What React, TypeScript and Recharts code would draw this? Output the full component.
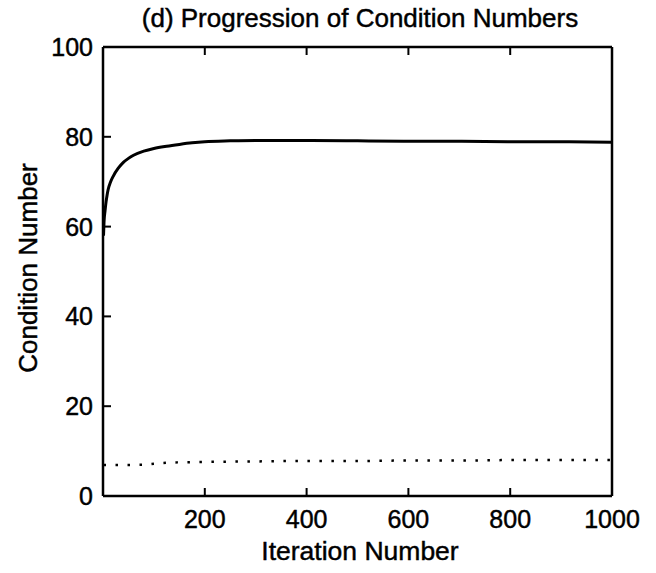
import React from 'react';
import { LineChart, Line, XAxis, YAxis } from 'recharts';

const iterations = [1, 2, 4, 6, 8, 10, 15, 20, 30, 40, 50, 60, 80, 100, 125, 150, 175, 200, 250, 300, 400, 500, 600, 700, 800, 900, 1000];
const conditionMain = [58, 61, 63.5, 65.5, 67, 68.2, 70.0, 71.2, 73.0, 74.3, 75.2, 75.9, 76.8, 77.4, 77.9, 78.3, 78.65, 78.9, 79.1, 79.2, 79.2, 79.1, 79.0, 79.0, 78.9, 78.9, 78.8];
const conditionPre = [6.9, 6.9, 6.9, 6.9, 6.9, 6.9, 6.9, 6.9, 6.9, 6.9, 6.9, 6.95, 7.0, 7.2, 7.4, 7.5, 7.55, 7.6, 7.65, 7.7, 7.8, 7.8, 7.9, 7.9, 8.0, 8.0, 8.0];
const xTicks = [200, 400, 600, 800, 1000];
const yTicks = [0, 20, 40, 60, 80, 100];

const title = '(d) Progression of Condition Numbers';
const xLabel = 'Iteration Number';
const yLabel = 'Condition Number';

const data = iterations.map((it, i) => ({ it, main: conditionMain[i], pre: conditionPre[i] }));

const FONT = '"Liberation Sans", Arial, Helvetica, sans-serif';
const W = 656;
const H = 573;
const TICK_LEN = 8;
const X_GAP = 14;
const Y_GAP = 10;
const TEXT_STROKE = 0.45;

function BottomTick(props: any) {
  const { x, y, payload } = props;
  return (
    <g>
      <path d={`M${x},${y - X_GAP}V${y - X_GAP - TICK_LEN}`} stroke="#000" strokeWidth={2} fill="none" />
      <text x={x} y={y} dy="0.72em" textAnchor="middle" fontSize={25} fontFamily={FONT} fill="#000" stroke="#000" strokeWidth={TEXT_STROKE}>
        {payload.value}
      </text>
    </g>
  );
}

function LeftTick(props: any) {
  const { x, y, payload } = props;
  return (
    <g>
      <path d={`M${x + Y_GAP},${y}H${x + Y_GAP + TICK_LEN}`} stroke="#000" strokeWidth={2} fill="none" />
      <text x={x} y={y} dy="0.36em" textAnchor="end" fontSize={25} fontFamily={FONT} fill="#000" stroke="#000" strokeWidth={TEXT_STROKE}>
        {payload.value}
      </text>
    </g>
  );
}

function TopTick(props: any) {
  const { x, y } = props;
  return <path d={`M${x},${y}V${y + TICK_LEN}`} stroke="#000" strokeWidth={2} fill="none" />;
}

function RightTick(props: any) {
  const { x, y } = props;
  return <path d={`M${x},${y}H${x - TICK_LEN}`} stroke="#000" strokeWidth={2} fill="none" />;
}

export default function App() {
  const axisLine = { stroke: '#000', strokeWidth: 2.5 };
  return (
    <div style={{ position: 'absolute', left: 0, top: 0, width: W, height: H, background: '#fff' }}>
      <LineChart width={W} height={H} data={data} margin={{ top: 46, right: 43, bottom: 17, left: 43 }}>
        <XAxis
          xAxisId="b"
          dataKey="it"
          type="number"
          domain={[0, 1000]}
          ticks={xTicks}
          height={60}
          tickSize={0}
          tickMargin={X_GAP}
          tick={<BottomTick />}
          axisLine={axisLine}
          tickLine={false}
        />
        <XAxis
          xAxisId="t"
          orientation="top"
          dataKey="it"
          type="number"
          domain={[0, 1000]}
          ticks={xTicks}
          height={1}
          tickSize={0}
          tickMargin={0}
          tick={<TopTick />}
          axisLine={axisLine}
          tickLine={false}
        />
        <YAxis
          yAxisId="l"
          type="number"
          domain={[0, 100]}
          ticks={yTicks}
          width={60}
          tickSize={0}
          tickMargin={Y_GAP}
          tick={<LeftTick />}
          axisLine={axisLine}
          tickLine={false}
        />
        <YAxis
          yAxisId="r"
          orientation="right"
          type="number"
          domain={[0, 100]}
          ticks={yTicks}
          width={1}
          tickSize={0}
          tickMargin={0}
          tick={<RightTick />}
          axisLine={axisLine}
          tickLine={false}
        />
        <Line
          xAxisId="b"
          yAxisId="l"
          type="monotone"
          dataKey="main"
          stroke="#000"
          strokeWidth={3}
          dot={false}
          isAnimationActive={false}
        />
        <Line
          xAxisId="b"
          yAxisId="l"
          type="monotone"
          dataKey="pre"
          stroke="#000"
          strokeWidth={2.5}
          strokeDasharray="2.5 9.5"
          dot={false}
          isAnimationActive={false}
        />
      </LineChart>
      <svg width={W} height={H} style={{ position: 'absolute', left: 0, top: 0, pointerEvents: 'none' }}>
        <text x={360} y={27} textAnchor="middle" fontSize={26} fontFamily={FONT} fill="#000" stroke="#000" strokeWidth={TEXT_STROKE}>{title}</text>
        <text x={360} y={560} textAnchor="middle" fontSize={26.5} fontFamily={FONT} fill="#000" stroke="#000" strokeWidth={TEXT_STROKE}>{xLabel}</text>
        <text x={37} y={268} textAnchor="middle" fontSize={26} fontFamily={FONT} fill="#000" stroke="#000" strokeWidth={TEXT_STROKE} transform="rotate(-90 37 268)">{yLabel}</text>
      </svg>
    </div>
  );
}
